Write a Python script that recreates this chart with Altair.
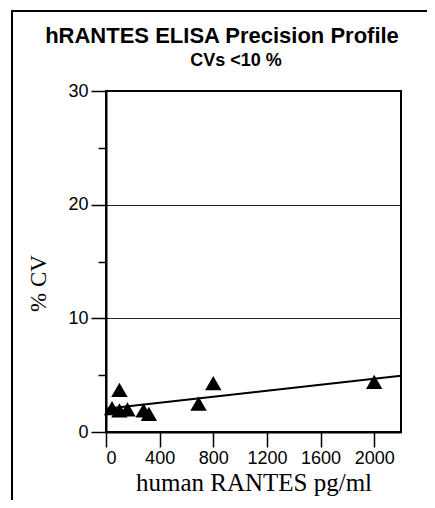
import altair as alt
import pandas as pd

# data
conc = [45, 100, 100, 160, 280, 320, 690, 800, 2000]
cv = [2.1, 3.7, 1.9, 2.0, 1.9, 1.6, 2.5, 4.3, 4.4]

fit_conc = [0, 2200]
fit_cv = [2.05, 4.95]

x_ticks = [0, 200, 400, 600, 800, 1000, 1200, 1400, 1600, 1800, 2000, 2200]
y_ticks = [0, 5, 10, 15, 20, 25, 30]

title_text = "hRANTES ELISA Precision Profile"
subtitle_text = "CVs <10 %"

pts = pd.DataFrame({"conc": conc, "cv": cv})
fit = pd.DataFrame({"conc": fit_conc, "cv": fit_cv})

xscale = alt.Scale(domain=[0, 2200], nice=False, zero=True)
yscale = alt.Scale(domain=[0, 30], nice=False)

xaxis = alt.Axis(
    title="human RANTES pg/ml",
    values=x_ticks,
    labelExpr="datum.value % 400 == 0 ? datum.label : ''",
    format="d",
    tickSize={"condition": {"test": "datum.value % 400 == 0", "value": 15}, "value": 9},
    tickColor="black",
    tickWidth=1.5,
    labelFont="Liberation Sans",
    labelFontSize=18,
    labelColor="black",
    labelPadding=2,
    titleFont="Liberation Serif",
    titleFontSize=25,
    titleFontWeight="normal",
    titleColor="black",
    titlePadding=3,
    domainColor="black",
    domainWidth=2,
    grid=False,
    labelOverlap=False,
)

yaxis = alt.Axis(
    title="% CV",
    values=y_ticks,
    tickSize={"condition": {"test": "datum.value % 10 == 0", "value": 15}, "value": 8},
    tickColor="black",
    tickWidth=1.5,
    labelExpr="datum.value % 10 == 0 ? datum.label : ''",
    labelFont="Liberation Sans",
    labelFontSize=18,
    labelColor="black",
    labelPadding=3,
    titleFont="Liberation Serif",
    titleFontSize=23,
    titleFontWeight="normal",
    titleColor="black",
    titleX=-56,
    titleY=192,
    domainColor="black",
    domainWidth=2,
    grid=True,
    gridColor="#222222",
    gridWidth=1.2,
    gridOpacity={"condition": {"test": "datum.value == 10 || datum.value == 20", "value": 1}, "value": 0},
    labelOverlap=False,
)

points = alt.Chart(pts).mark_point(
    shape="triangle-up", filled=True, color="black", size=270, opacity=1
).encode(
    x=alt.X("conc:Q", scale=xscale, axis=xaxis),
    y=alt.Y("cv:Q", scale=yscale, axis=yaxis),
)

line = alt.Chart(fit).mark_line(color="black", strokeWidth=2).encode(
    x=alt.X("conc:Q", scale=xscale),
    y=alt.Y("cv:Q", scale=yscale),
)

one = alt.Data(values=[{"k": 1}])
frame_left = alt.Chart(one).mark_rule(color="black", strokeWidth=2).encode(
    x=alt.value(-94), y=alt.value(-80), y2=alt.value(410)
)
frame_top = alt.Chart(one).mark_rule(color="black", strokeWidth=2).encode(
    x=alt.value(-95), x2=alt.value(340), y=alt.value(-80)
)

title_mark = alt.Chart(alt.Data(values=[{"t": title_text}])).mark_text(
    font="Liberation Sans", fontSize=22, fontWeight="bold", color="black",
    align="center", baseline="alphabetic",
).encode(x=alt.value(116), y=alt.value(-48), text="t:N")

subtitle_mark = alt.Chart(alt.Data(values=[{"t": subtitle_text}])).mark_text(
    font="Liberation Sans", fontSize=18, fontWeight="bold", color="black",
    align="center", baseline="alphabetic",
).encode(x=alt.value(130), y=alt.value(-25), text="t:N")

chart = alt.layer(line, points, frame_left, frame_top, title_mark, subtitle_mark).properties(
    width=295,
    height=341,
    padding={"left": 98, "top": 83, "right": 26, "bottom": 68},
    autosize=alt.AutoSizeParams(type="none"),
).configure_view(
    stroke="black", strokeWidth=2
)

chart.save("out.html", embed_options={"renderer": "svg", "actions": False})
